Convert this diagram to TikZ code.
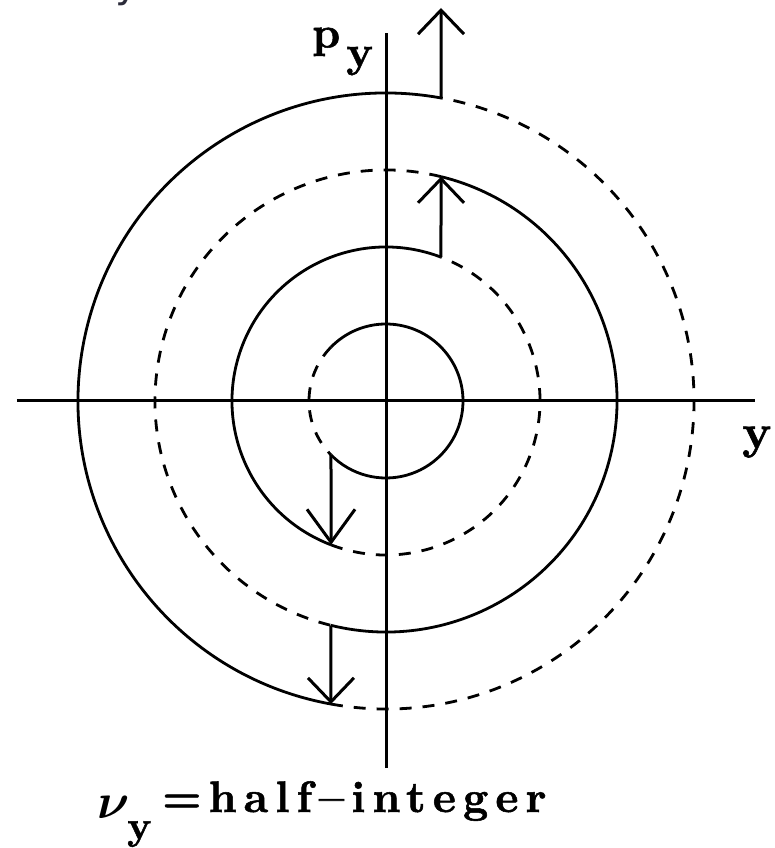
\documentclass[tikz,border=0pt]{standalone}
\usepackage{graphicx}
\usepackage{fontspec}
\usetikzlibrary{arrows.meta}

\newfontfamily\labelfont{lmroman10-bold}[Extension=.otf,BoldFont=lmroman10-bold,FakeBold=1.2]
\newfontfamily\tunefont{lmroman10-bold}[Extension=.otf,BoldFont=lmroman10-bold,FakeBold=1.2,LetterSpace=16]
\newfontfamily\fragfont{DejaVu Sans}
\definecolor{fragcol}{HTML}{2B2B3A}

\begin{document}
\begin{tikzpicture}[
  x=1pt,y=1pt,
  axis/.style={line width=3pt},
  orbit/.style={line width=2.8pt},
  ghost/.style={orbit,dash pattern=on 12pt off 11pt},
  kick/.style={line width=3pt,-{Straight Barb[length=24pt,width=46pt,line width=3pt]}},
  lbl/.style={inner sep=0pt,font=\labelfont\fontsize{44}{48}\selectfont}
]
  \useasboundingbox (-386,-447) rectangle (389,401);
  \coordinate (O) at (0,0);

  % axes
  \coordinate (yl) at (-369,0);
  \coordinate (yr) at (369,0);
  \coordinate (pb) at (0,-367);
  \coordinate (pt) at (0,368);
  \draw[axis] (yl) -- (yr);
  \draw[axis] (pb) -- (pt);

  % orbits, turn after turn
  \draw[orbit] (O) ++(135.6:77) arc[start angle=135.6,end angle=-135.6,radius=77];
  \draw[ghost] (O) ++(135.6:77) arc[start angle=135.6,end angle=224.4,radius=77];
  \draw[orbit] (O) ++(69.1:154) arc[start angle=69.1,end angle=249.1,radius=154];
  \draw[ghost] (O) ++(249.1:154) arc[start angle=249.1,end angle=429.1,radius=154];
  \draw[orbit] (O) ++(76.2:231) arc[start angle=76.2,end angle=-103.8,radius=231];
  \draw[ghost] (O) ++(76.2:231) arc[start angle=76.2,end angle=256.2,radius=231];
  \draw[orbit] (O) ++(79.7:308) arc[start angle=79.7,end angle=259.7,radius=308];
  \draw[ghost] (O) ++(259.7:308) arc[start angle=259.7,end angle=439.7,radius=308];

  % kicks
  \coordinate (k1a) at (224.4:77);
  \coordinate (k1b) at (249.1:154);
  \coordinate (k2a) at (69.1:154);
  \coordinate (k2b) at (76.2:231);
  \coordinate (k3a) at (256.2:231);
  \coordinate (k3b) at (259.7:308);
  \coordinate (k4a) at (79.7:308);
  \coordinate (k4b) at (55,393);
  \draw[kick,-{Straight Barb[length=33pt,width=48pt,line width=3pt]}] (k1a) -- (k1b);
  \draw[kick] (k2a) -- (k2b);
  \draw[kick] (k3a) -- (k3b);
  \draw[kick] (k4a) -- (k4b);

  % labels
  \node[lbl,anchor=base west] (py) at (-74,353.5) {p\hspace{6pt}\raisebox{-19pt}{y}};
  \node[lbl,anchor=base west,font=\labelfont\fontsize{48}{52}\selectfont] (ylab) at (356,-47) {y};
  \node[lbl,anchor=base west,font=\labelfont\fontsize{40}{44}\selectfont] (tune) at (-289,-411)
    {\makebox[30pt][l]{\raisebox{-6pt}{\fontsize{10}{12}\selectfont\scalebox{5}{\boldmath$\nu$}}}%
     \makebox[35pt][l]{\raisebox{-27pt}{y}}%
     {\tunefont\fontsize{44}{48}\selectfont =half–integer}};
  \node[inner sep=0pt,anchor=base west,text=fragcol,font=\fragfont\fontsize{40}{44}\selectfont] (frag) at (-271,403) {y};
\end{tikzpicture}
\end{document}
